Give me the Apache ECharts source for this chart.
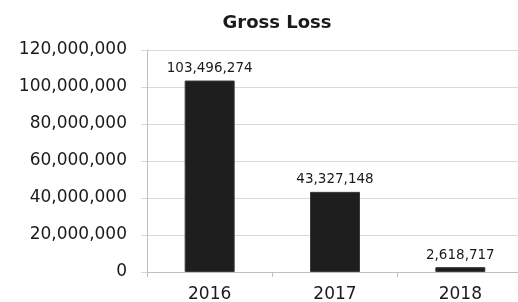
<!DOCTYPE html>
<html>
<head>
<meta charset="utf-8">
<script src="https://cdn.jsdelivr.net/npm/echarts@6/dist/echarts.min.js"></script>
<style>
  html, body { margin: 0; padding: 0; background: #fff; }
  #chart { width: 518px; height: 302px; }
</style>
</head>
<body>
<div id="chart"></div>
<script>
// data
const years = ["2016", "2017", "2018"];
const grossLoss = [103496274, 43327148, 2618717];
const yTicks = { min: 0, max: 120000000, interval: 20000000 };

const fmt = (v) => Number(v).toLocaleString("en-US");

let chart = echarts.init(document.getElementById("chart"));
chart.setOption({
  animation: false,
  title: {
    text: "Gross Loss",
    left: 272,
    top: 9,
    textAlign: "center",
    textStyle: {
      fontFamily: "DejaVu Sans",
      fontWeight: "bold",
      fontSize: 18,
      color: "#1a1a1a",
    },
  },
  grid: {
    left: 147,
    top: 50,
    width: 376,
    height: 222,
    containLabel: false,
    outerBoundsMode: "none",
  },
  xAxis: {
    type: "category",
    data: years,
    axisLine: { lineStyle: { color: "#bfbfbf", width: 1 } },
    axisTick: { show: true, length: 5, lineStyle: { color: "#bfbfbf" } },
    axisLabel: {
      margin: 14,
      fontFamily: "DejaVu Sans",
      fontSize: 17,
      color: "#1a1a1a",
    },
  },
  yAxis: {
    type: "value",
    min: yTicks.min,
    max: yTicks.max,
    interval: yTicks.interval,
    axisLine: { show: true, lineStyle: { color: "#bfbfbf", width: 1 } },
    axisTick: { show: true, length: 6, lineStyle: { color: "#d9d9d9" } },
    splitLine: { lineStyle: { color: "#d9d9d9", width: 1 } },
    axisLabel: {
      margin: 20,
      fontFamily: "DejaVu Sans",
      fontSize: 17,
      color: "#1a1a1a",
      formatter: fmt,
    },
  },
  series: [
    {
      type: "bar",
      data: grossLoss,
      barWidth: 50,
      itemStyle: { color: "#1d1e1d", borderColor: "#3a3a3a", borderWidth: 1 },
      label: {
        show: true,
        position: "top",
        distance: 5,
        fontFamily: "DejaVu Sans",
        fontSize: 13.5,
        color: "#1a1a1a",
        formatter: (p) => fmt(p.value),
      },
    },
  ],
});
</script>
</body>
</html>
